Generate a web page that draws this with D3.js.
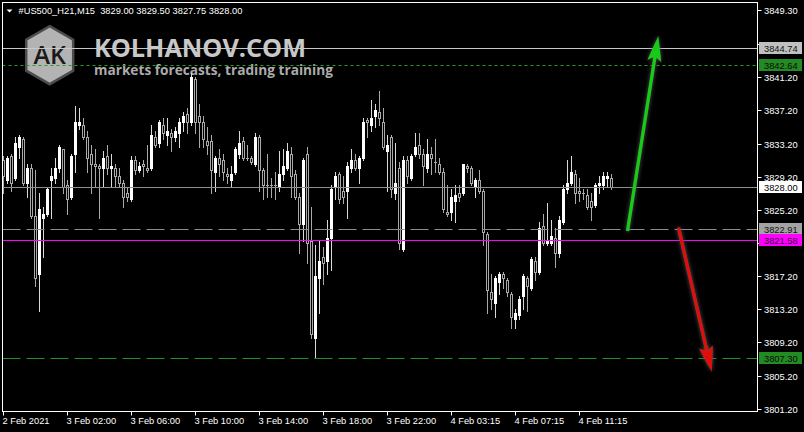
<!DOCTYPE html>
<html><head><meta charset="utf-8">
<script src="https://cdn.jsdelivr.net/npm/d3@7"></script>
<style>html,body{margin:0;padding:0;background:#000;}svg{display:block;}</style>
</head><body>
<script>
// ---------------- DATA ----------------
const symbolTitle = "#US500_H21,M15  3829.00 3829.50 3827.75 3828.00";
const timeLabels = ["2 Feb 2021","3 Feb 02:00","3 Feb 06:00","3 Feb 10:00","3 Feb 14:00","3 Feb 18:00","3 Feb 22:00","4 Feb 03:15","4 Feb 07:15","4 Feb 11:15"];
const timeLabelBars = [0,16,32,48,64,80,96,112,128,144];
const priceTicks = [3849.30,3845.20,3841.20,3837.20,3833.20,3829.20,3825.20,3821.20,3817.20,3813.20,3809.20,3805.20,3801.20];
// tick labels hidden behind the level boxes in the reference
const hiddenTickLabels = [3845.20, 3821.20];

const opens = [3831.25,3828.75,3831.75,3829,3832.75,3833.75,3828.5,3830.25,3824.5,3817.5,3824.25,3824.75,3828.75,3829,3830.25,3832.5,3828.25,3826.75,3832,3835.5,3835.5,3834,3832,3830.75,3830.5,3830.25,3831.75,3830.25,3830.25,3829.25,3828.5,3827.25,3826.5,3831.25,3830,3830.75,3830.25,3830.25,3834,3833.25,3835.5,3834.25,3834.5,3834,3834.5,3835.75,3836.75,3835.75,3841,3836.5,3835.75,3833.5,3833.5,3829.75,3831.5,3831.25,3829.5,3828.75,3829.75,3832,3833.5,3831.5,3831.5,3830.75,3834,3830,3828.25,3828.25,3828.25,3828,3829.5,3830.25,3832,3829.5,3826.75,3823.5,3832,3821.5,3809.75,3817,3819.5,3819,3821.75,3828,3829.5,3827.5,3827.5,3830.25,3831.25,3830.25,3831.5,3836,3835.5,3836.5,3837,3835.75,3832.25,3834,3827.25,3830.25,3820.5,3831.25,3829,3832,3833,3832,3830.25,3832,3831,3830.75,3829.75,3825,3825,3826.25,3827.25,3827.25,3830.5,3830.25,3828,3828.75,3827.5,3822.25,3815.25,3814,3816.5,3817.5,3816.75,3815,3812,3812.5,3814.75,3817,3815.75,3819,3817.75,3823.25,3821.25,3821.25,3821.75,3820,3823.75,3827.75,3828.5,3829.5,3827.5,3827.25,3827,3826.25,3825.75,3828.25,3828.25,3829,3829];
const highs = [3831.75,3831.75,3832,3834,3834.25,3834,3830.75,3830.75,3830,3827.25,3825.5,3828,3830.25,3831.5,3833,3832.5,3828.75,3832,3837.75,3837.5,3836.25,3834.75,3833,3832.5,3830.75,3832.25,3833,3832,3830.75,3830.25,3828.75,3828,3831.75,3831.75,3831,3831.25,3833,3835.5,3834.75,3836,3836.25,3836.25,3835,3835.25,3836.25,3837,3837.5,3841.75,3841.25,3838,3836.5,3835.25,3834.25,3831.75,3832.5,3832,3830.25,3830.5,3832.75,3834.75,3834,3833,3831.75,3834.5,3834.25,3830.25,3832,3829,3829.75,3832.25,3832.5,3833.25,3832.75,3830,3827.25,3831.5,3832.75,3825.5,3821,3821.5,3820.75,3824,3828.25,3829.75,3829.75,3829.25,3831,3832.5,3832,3831.75,3836.25,3836.25,3838.5,3838,3839.5,3837.5,3834.25,3834.25,3833.25,3831,3831.75,3831.75,3832,3834.5,3834.5,3832.5,3833.75,3832.75,3833.75,3831.5,3830.25,3828.25,3827.75,3828.25,3828.25,3830.75,3830.75,3830.5,3829,3830,3827.75,3822.5,3817.5,3817.25,3817.75,3817.75,3817,3815.25,3813.25,3814.75,3817.5,3817.25,3819.5,3819.5,3823.75,3824.75,3826,3824,3823,3824.5,3828.25,3831.25,3831.75,3830,3829,3827.75,3827.75,3827.25,3828.5,3829.25,3829.75,3829.75,3829.5];
const lows = [3827.25,3828.5,3827.5,3828.75,3831.5,3828.25,3826.75,3824.25,3816,3813,3819.5,3824.5,3824.25,3828.5,3829.75,3827.25,3824.75,3826.5,3829.75,3835,3833.75,3829.75,3827.25,3828,3824.25,3828,3829.5,3828,3828,3828,3825.5,3826.25,3826.25,3829.5,3829.75,3829.25,3829.75,3830,3832.75,3832.75,3833.75,3833,3832.25,3833.5,3832.75,3834.75,3834.5,3835.5,3834.5,3832.75,3832.75,3832,3827.25,3827.5,3829.25,3828.75,3828.5,3828,3829.5,3831.5,3831.25,3831.25,3830.75,3830.5,3827.5,3826.5,3826.75,3826.75,3826.5,3827.5,3828.75,3830,3826.75,3826.5,3820,3821.5,3818.75,3809.75,3807.5,3812.75,3816.25,3817.5,3818,3826.5,3826,3826,3824.25,3829.75,3830,3828.5,3831.25,3834,3834.75,3835.25,3835.5,3832.5,3827.5,3826.75,3826.5,3820.5,3820.25,3828.5,3828.75,3831.75,3831.5,3828.25,3829.75,3829.5,3829.75,3829.5,3825,3824.5,3824,3823.75,3826.25,3827,3829.75,3828.25,3826.75,3827.25,3821,3812.75,3813.25,3812.25,3815,3815.75,3814.75,3811,3811,3812,3813.25,3813,3815.5,3816.75,3817.5,3821,3821,3821,3818.25,3819.5,3823.5,3827.25,3828.25,3826,3826.25,3826.5,3825.25,3824,3825.5,3827.25,3827.75,3828,3827.75];
const closes = [3829.25,3831.5,3828.5,3833.25,3834,3828.5,3830.25,3824.5,3817,3825.25,3824.75,3827.75,3829.25,3830.25,3832.75,3828,3826.5,3831.75,3835.75,3835.75,3834,3831.5,3830.75,3830.5,3830.25,3831.5,3830.25,3830.5,3829.25,3828.5,3826.75,3826.75,3831.25,3830,3830.5,3830.5,3830,3834.25,3833,3835.75,3834.5,3834.75,3834,3834.75,3835.75,3836.5,3835.75,3841.25,3835.75,3835.75,3833.75,3833,3830,3831.5,3830.75,3829.75,3829.25,3829.5,3832.5,3833.25,3831.5,3831.5,3831,3834,3830,3828.25,3828.25,3828.25,3828.25,3829.5,3830.5,3832.25,3829.25,3826.75,3823.5,3831.25,3821.25,3810.25,3817.25,3819,3818.75,3821.75,3827.75,3829.25,3826.5,3826.75,3830.5,3831.25,3830.25,3831.5,3835.75,3835.75,3836.25,3837.25,3836.25,3832.75,3833,3827.75,3828.5,3821.25,3831.25,3829.25,3831.75,3832.75,3832,3830.5,3832,3831.5,3831,3829.75,3825.25,3824.75,3826.75,3827,3826.75,3830.75,3830.25,3828.5,3828.75,3827.5,3822.5,3815.5,3814.5,3817,3817.5,3817,3815.25,3812.25,3812.75,3814.5,3817.25,3816,3819.25,3817.75,3823,3821.25,3821.5,3822,3820,3824,3827.75,3828.5,3829.75,3827.25,3827.25,3827.25,3825.5,3825.5,3828.25,3828.5,3829.25,3829.25,3828];

const levelPrices = [3844.74, 3842.64, 3828.00, 3822.91, 3821.58, 3807.30];
const levelLabels = ["3844.74","3842.64","3828.00","3822.91","3821.58","3807.30"];

// forecast arrows (bar index, price)
const arrowFromBar = [156, 168.75];
const arrowFromPrice = [3822.65, 3823.05];
const arrowToBar = [163.7, 177.05];
const arrowToPrice = [3846.2, 3805.65];

// ---------------- CHART ----------------
const W = 804, H = 432;
const plot = {l: 2.5, r: 757.5, t: 2.5, b: 411.5};
const FONT = "'Liberation Sans', Arial, sans-serif";

const svg = d3.select("body").append("svg").attr("width", W).attr("height", H);
svg.append("rect").attr("width", W).attr("height", H).attr("fill", "#000");

const defs = svg.append("defs");
const glow = defs.append("filter").attr("id","glow").attr("x","-50%").attr("y","-50%").attr("width","200%").attr("height","200%");
glow.append("feGaussianBlur").attr("in","SourceAlpha").attr("stdDeviation",2.2).attr("result","b");
glow.append("feFlood").attr("flood-color","#5a5a5a").attr("result","c");
glow.append("feComposite").attr("in","c").attr("in2","b").attr("operator","in").attr("result","s");
const gm = glow.append("feMerge");
gm.append("feMergeNode").attr("in","s");
gm.append("feMergeNode").attr("in","SourceGraphic");

const x = d3.scaleLinear().domain([0, 152]).range([3.5, 611.5]);
const y = d3.scaleLinear().domain([3801.2, 3841.2]).range([408.7, 77.3]);
const snap = v => Math.round(v) + 0.5;

// ---- logo (watermark) ----
const logo = svg.append("g");
const hx = 49.7, hy = 55.2, hw = 23.5, hh = 29, hs = 15.5;
const hexPts = [[hx,hy-hh],[hx+hw,hy-hs],[hx+hw,hy+hs],[hx,hy+hh],[hx-hw,hy+hs],[hx-hw,hy-hs]];
logo.append("polygon").attr("points", hexPts.map(p=>p.join(",")).join(" "))
  .attr("fill","#b3b3b3").attr("stroke","#4d4d4d").attr("stroke-width",2.5);
logo.append("text").attr("x",hx).attr("y",63.5).attr("text-anchor","middle")
  .attr("font-family","'Open Sans', sans-serif").attr("font-weight",600).attr("font-size",25).attr("fill","#1a1a1a").text("AK");
logo.append("text").attr("x",94).attr("y",56.5).attr("font-family","'Open Sans', sans-serif")
  .attr("font-weight","bold").attr("font-size",25).attr("fill","#c8c8c8")
  .attr("textLength",212).attr("lengthAdjust","spacingAndGlyphs").text("KOLHANOV.COM");
logo.append("text").attr("x",94).attr("y",74.5).attr("font-family","'Open Sans', sans-serif")
  .attr("font-weight","bold").attr("font-size",14.5).attr("fill","#ababab")
  .attr("textLength",239).attr("lengthAdjust","spacingAndGlyphs").text("markets forecasts, trading training");

// ---- candles ----
const bars = d3.range(opens.length).map(i => ({i, o: opens[i], h: highs[i], l: lows[i], c: closes[i]}));
const cg = svg.append("g");
bars.forEach(d => {
  const cx = x(d.i);
  const bull = d.c > d.o;
  const wickCol = bull ? "#d9d9d9" : "#a9a9a9";
  const yh = Math.round(y(d.h)), yl = Math.round(y(d.l));
  cg.append("line").attr("x1",cx).attr("x2",cx).attr("y1",yh).attr("y2",yl+1)
    .attr("stroke",wickCol).attr("stroke-width",1);
  const yt = Math.round(y(Math.max(d.o,d.c))), yb = Math.round(y(Math.min(d.o,d.c)));
  if (yb - yt < 1) {
    cg.append("line").attr("x1",cx-1.5).attr("x2",cx+1.5).attr("y1",yt+0.5).attr("y2",yt+0.5)
      .attr("stroke",wickCol).attr("stroke-width",1);
  } else {
    cg.append("rect").attr("x",cx-1).attr("width",2).attr("y",yt+0.5).attr("height",yb-yt)
      .attr("fill", bull ? "#ffffff" : "#000000").attr("stroke", bull ? "#ffffff" : "#a9a9a9").attr("stroke-width",1);
  }
});

// ---- horizontal levels ----
const lineStroke = ["#c8c8c8","#2a9a2a","#8b9099","#8c8c8c","#ff00ff","#229022"];
const lineDash = [null,"3,3",null,"18,6","","18,6"];
const boxFill = ["#c0c0c0","#228b22","#ffffff","#a3a3a3","#ff00ff","#228b22"];
const boxText = ["#101010","#0a0a0a","#000000","#101010","#3a003a","#0a0a0a"];

const lg = svg.append("g");
levelPrices.forEach((p, k) => {
  lg.append("line").attr("x1",plot.l).attr("x2",plot.r).attr("y1",snap(y(p))).attr("y2",snap(y(p)))
    .attr("stroke",lineStroke[k]).attr("stroke-width",1)
    .attr("stroke-dasharray", lineDash[k] || null);
});

// ---- frame ----
svg.append("rect").attr("x",plot.l).attr("y",plot.t).attr("width",plot.r-plot.l).attr("height",plot.b-plot.t)
  .attr("fill","none").attr("stroke","#ffffff").attr("stroke-width",1);

// ---- price axis ----
const yAxis = d3.axisRight(y).tickValues(priceTicks).tickSize(4).tickPadding(3)
  .tickFormat(d => hiddenTickLabels.includes(d) ? "" : d3.format(".2f")(d)).offset(0);
const ya = svg.append("g").attr("transform",`translate(${plot.r},0)`).call(yAxis);
ya.select(".domain").remove();
ya.selectAll(".tick line").attr("stroke","#ffffff");
ya.selectAll(".tick").attr("transform", d => `translate(0,${snap(y(d))})`);
ya.selectAll(".tick text").attr("fill","#ffffff").attr("font-family",FONT).attr("font-size",9.3)
  .attr("x",6.5).attr("dy","0.34em");

// ---- level price boxes ----
levelPrices.forEach((p, k) => {
  const cy = snap(y(p));
  svg.append("rect").attr("x",759).attr("y",cy-6.5).attr("width",43).attr("height",12).attr("fill",boxFill[k]);
  svg.append("text").attr("x",764).attr("y",cy).attr("dy","0.34em").attr("font-family",FONT)
    .attr("font-size",9.3).attr("fill",boxText[k]).text(levelLabels[k]);
});

// ---- time axis ----
const xAxis = d3.axisBottom(x).tickValues(timeLabelBars).tickSize(4).tickPadding(2)
  .tickFormat((d,i) => timeLabels[i]).offset(0);
const xa = svg.append("g").attr("transform",`translate(0,${plot.b})`).call(xAxis);
xa.select(".domain").remove();
xa.selectAll(".tick line").attr("stroke","#ffffff");
xa.selectAll(".tick text").attr("fill","#ffffff").attr("font-family",FONT).attr("font-size",9.3)
  .attr("text-anchor","start").attr("x",-1);

// ---- arrows ----
const arrowCol = ["#18cc18","#e00a0a"];
arrowFromBar.forEach((b, k) => {
  const x0 = x(b), y0 = y(arrowFromPrice[k]), x1 = x(arrowToBar[k]), y1 = y(arrowToPrice[k]);
  const dx = x1-x0, dy = y1-y0, len = Math.hypot(dx,dy), ux = dx/len, uy = dy/len, px = -uy, py = ux;
  const headL = 25.5, headW = 7, notch = 20.5;
  const bx = x1-ux*headL, by = y1-uy*headL, nx = x1-ux*notch, ny = y1-uy*notch;
  const g = svg.append("g").attr("filter","url(#glow)");
  g.append("line").attr("x1",x0).attr("y1",y0).attr("x2",nx).attr("y2",ny)
    .attr("stroke",arrowCol[k]).attr("stroke-width",3.2);
  g.append("polygon").attr("points",[[x1,y1],[bx+px*headW,by+py*headW],[nx,ny],[bx-px*headW,by-py*headW]].map(p=>p.join(",")).join(" "))
    .attr("fill",arrowCol[k]);
});

// ---- title ----
svg.append("polygon").attr("points","6.5,9.5 12.5,9.5 9.5,12.5").attr("fill","#ffffff");
svg.append("text").attr("x",18.5).attr("y",14).attr("font-family",FONT).attr("font-size",9.3)
  .attr("fill","#ffffff").attr("xml:space","preserve").style("white-space","pre").text(symbolTitle);
</script>
</body></html>
